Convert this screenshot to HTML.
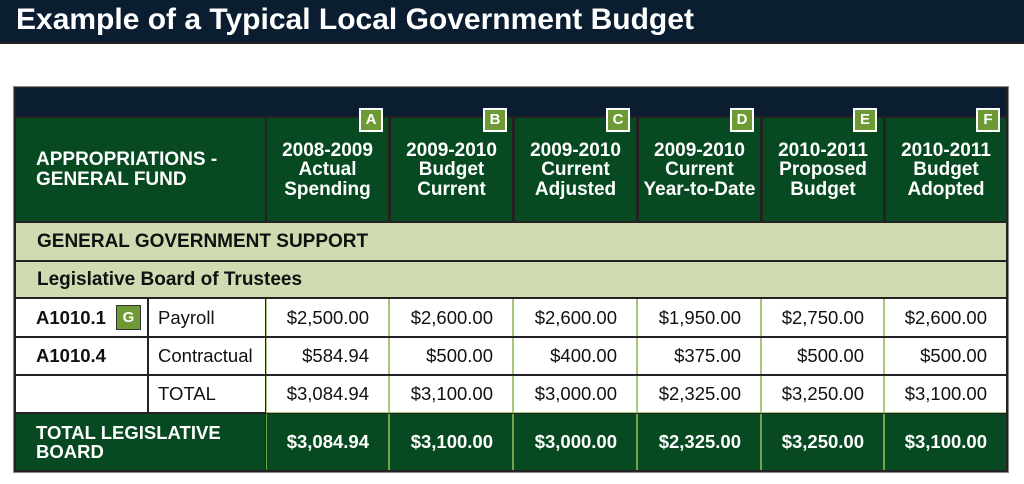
<!DOCTYPE html>
<html><head><style>
*{margin:0;padding:0;box-sizing:border-box}
body{width:1024px;height:484px;background:#fff;font-family:"Liberation Sans",Arial,sans-serif;position:relative;overflow:hidden}
.a{position:absolute}
.title{left:0;top:0;width:1024px;height:44px;background:#0b1d30;border-bottom:2px solid #222;color:#fff;font-weight:bold;font-size:30px;padding:3px 0 0 16px}
.frame{left:13px;top:86px;width:996px;height:387px;background:#222;border:1px solid #888}
.navy{left:16px;top:88px;width:990px;height:28px;background:#0b1d30}
.hdr{background:#074a22;color:#fff;font-weight:bold;font-size:19px;line-height:19.5px;text-align:center;display:flex;align-items:flex-end;justify-content:center;padding-bottom:22px}
.badge{width:24px;height:24px;background:#6e9a35;border:2px solid #fff;color:#fff;font-weight:bold;font-size:15px;text-align:center;line-height:20px}
.sec{background:#cfdcb2;color:#111;font-weight:bold;font-size:19px;padding-left:21px;display:flex;align-items:center}
.cell{background:#fff;color:#111;font-size:18.5px;display:flex;align-items:center}
.num{justify-content:flex-end;padding-right:19px}
.tot{background:#074a22;color:#fff;font-weight:bold;font-size:18.5px;display:flex;align-items:center}
</style></head><body>
<div class="a title">Example of a Typical Local Government Budget</div>
<div class="a frame"></div>
<div class="a navy"></div>

<div class="a hdr" style="left:16px;top:118px;width:249px;height:103px;justify-content:flex-start;align-items:center;padding:0 0 0 20px;text-align:left">APPROPRIATIONS -<br>GENERAL FUND</div>
<div class="a hdr" style="left:267px;top:118px;width:121px;height:103px">2008-2009<br>Actual<br>Spending</div>
<div class="a hdr" style="left:391px;top:118px;width:121px;height:103px">2009-2010<br>Budget<br>Current</div>
<div class="a hdr" style="left:515px;top:118px;width:121px;height:103px">2009-2010<br>Current<br>Adjusted</div>
<div class="a hdr" style="left:639px;top:118px;width:121px;height:103px">2009-2010<br>Current<br>Year-to-Date</div>
<div class="a hdr" style="left:763px;top:118px;width:120px;height:103px">2010-2011<br>Proposed<br>Budget</div>
<div class="a hdr" style="left:886px;top:118px;width:120px;height:103px">2010-2011<br>Budget<br>Adopted</div>
<div class="a badge" style="left:359px;top:108px">A</div>
<div class="a badge" style="left:483px;top:108px">B</div>
<div class="a badge" style="left:606px;top:108px">C</div>
<div class="a badge" style="left:730px;top:108px">D</div>
<div class="a badge" style="left:853px;top:108px">E</div>
<div class="a badge" style="left:976px;top:108px">F</div>

<div class="a sec" style="left:16px;top:223px;width:990px;height:37px">GENERAL GOVERNMENT SUPPORT</div>
<div class="a sec" style="left:16px;top:262px;width:990px;height:35px">Legislative Board of Trustees</div>

<div class="a" style="left:266px;top:299px;width:740px;height:114px;background:#a8c97a"></div>

<div class="a cell" style="left:16px;top:299px;width:131px;height:37px;font-weight:bold;padding-left:20px">A1010.1<span class="badge" style="display:inline-block;margin-left:10px;width:25px;height:25px;border:1px solid #333;line-height:23px">G</span></div>
<div class="a cell" style="left:149px;top:299px;width:116px;height:37px;padding-left:9px">Payroll</div>
<div class="a cell" style="left:16px;top:338px;width:131px;height:36px;font-weight:bold;padding-left:20px">A1010.4</div>
<div class="a cell" style="left:149px;top:338px;width:116px;height:36px;padding-left:9px">Contractual</div>
<div class="a cell" style="left:16px;top:376px;width:131px;height:36px"></div>
<div class="a cell" style="left:149px;top:376px;width:116px;height:36px;padding-left:9px">TOTAL</div>

<div class="a cell num" style="left:267px;top:299px;width:121px;height:37px">$2,500.00</div>
<div class="a cell num" style="left:390px;top:299px;width:122px;height:37px">$2,600.00</div>
<div class="a cell num" style="left:514px;top:299px;width:122px;height:37px">$2,600.00</div>
<div class="a cell num" style="left:638px;top:299px;width:122px;height:37px">$1,950.00</div>
<div class="a cell num" style="left:762px;top:299px;width:121px;height:37px">$2,750.00</div>
<div class="a cell num" style="left:885px;top:299px;width:121px;height:37px">$2,600.00</div>

<div class="a cell num" style="left:267px;top:338px;width:121px;height:36px">$584.94</div>
<div class="a cell num" style="left:390px;top:338px;width:122px;height:36px">$500.00</div>
<div class="a cell num" style="left:514px;top:338px;width:122px;height:36px">$400.00</div>
<div class="a cell num" style="left:638px;top:338px;width:122px;height:36px">$375.00</div>
<div class="a cell num" style="left:762px;top:338px;width:121px;height:36px">$500.00</div>
<div class="a cell num" style="left:885px;top:338px;width:121px;height:36px">$500.00</div>

<div class="a cell num" style="left:267px;top:376px;width:121px;height:36px">$3,084.94</div>
<div class="a cell num" style="left:390px;top:376px;width:122px;height:36px">$3,100.00</div>
<div class="a cell num" style="left:514px;top:376px;width:122px;height:36px">$3,000.00</div>
<div class="a cell num" style="left:638px;top:376px;width:122px;height:36px">$2,325.00</div>
<div class="a cell num" style="left:762px;top:376px;width:121px;height:36px">$3,250.00</div>
<div class="a cell num" style="left:885px;top:376px;width:121px;height:36px">$3,100.00</div>
<div class="a" style="left:266px;top:336px;width:740px;height:2px;background:#222"></div>
<div class="a" style="left:266px;top:374px;width:740px;height:2px;background:#222"></div>

<div class="a" style="left:266px;top:414px;width:740px;height:56px;background:#7aa24a"></div>
<div class="a tot" style="left:16px;top:414px;width:249px;height:56px;padding-left:20px;line-height:19px">TOTAL LEGISLATIVE<br>BOARD</div>
<div class="a tot num" style="left:267px;top:414px;width:121px;height:56px">$3,084.94</div>
<div class="a tot num" style="left:390px;top:414px;width:122px;height:56px">$3,100.00</div>
<div class="a tot num" style="left:514px;top:414px;width:122px;height:56px">$3,000.00</div>
<div class="a tot num" style="left:638px;top:414px;width:122px;height:56px">$2,325.00</div>
<div class="a tot num" style="left:762px;top:414px;width:121px;height:56px">$3,250.00</div>
<div class="a tot num" style="left:885px;top:414px;width:121px;height:56px">$3,100.00</div>
</body></html>
